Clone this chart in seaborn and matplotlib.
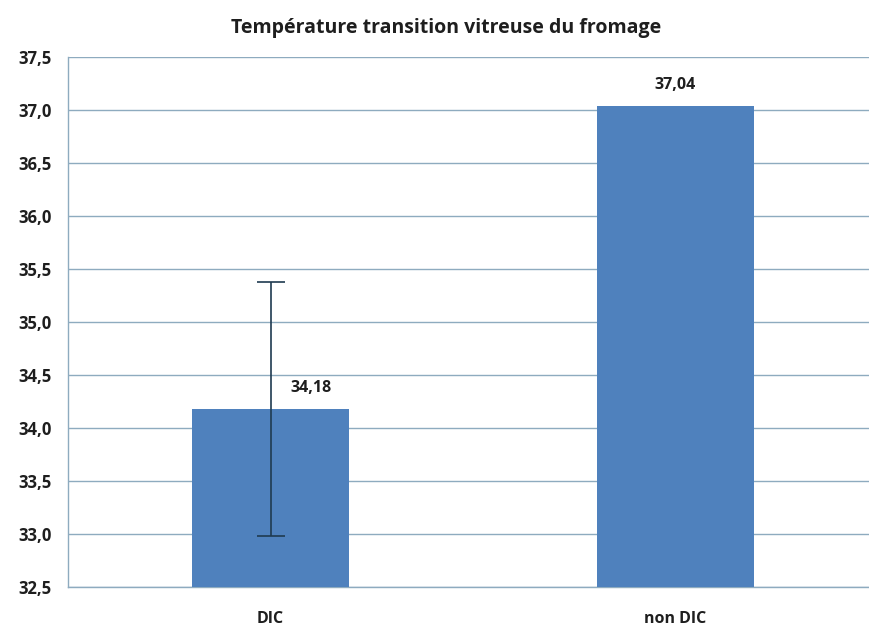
import matplotlib
matplotlib.use("Agg")
from matplotlib import pyplot as plt
import pandas as pd
import seaborn as sns

# data
categories = ["DIC", "non DIC"]
values = [34.18, 37.04]
errors = [1.2, 0.0]
value_labels = ["34,18", "37,04"]
yticks = [32.5, 33.0, 33.5, 34.0, 34.5, 35.0, 35.5, 36.0, 36.5, 37.0, 37.5]

df = pd.DataFrame({"cat": categories, "val": values})

sns.set_style("white")
plt.rcParams['font.family'] = ['Open Sans', 'DejaVu Sans']

fig = plt.figure(figsize=(8.69, 6.28), dpi=100)
ax = fig.add_axes([0.0783, 0.0653, 0.932, 0.844])

grid_col = '#8eabbf'
txt_col = '#1e1e1e'
sns.barplot(data=df, x="cat", y="val", color='#4f81bd', saturation=1,
            width=0.39, linewidth=0, ax=ax, zorder=3)

# error bar only on DIC
ax.errorbar(0, values[0], yerr=errors[0], fmt='none', ecolor='#1f3b50',
            elinewidth=1.2, capsize=10, capthick=1.2, zorder=4)

ax.set_ylim(32.5, 37.5)
ax.set_xlim(-0.5, 1.5)
ax.set_yticks(yticks)
ax.set_yticklabels([f"{t:.1f}".replace('.', ',') for t in yticks],
                   fontsize=12, fontweight='bold', color=txt_col)
ax.set_xticks([0, 1])
ax.set_xticklabels(categories, fontsize=11.5, fontweight='bold', color=txt_col)
ax.tick_params(axis='y', length=0, pad=12)
ax.tick_params(axis='x', length=0, pad=17)
ax.set_xlabel("")
ax.set_ylabel("")

ax.yaxis.grid(True, color=grid_col, linewidth=1.0, zorder=0)
ax.set_axisbelow(True)
for s in ['top', 'right']:
    ax.spines[s].set_visible(False)
for s in ['left', 'bottom']:
    ax.spines[s].set_color(grid_col)
    ax.spines[s].set_linewidth(1.0)

# value labels
ax.text(0.1, values[0] + 0.12, value_labels[0], ha='center', va='bottom',
        fontsize=11.5, fontweight='bold', color=txt_col, zorder=5)
ax.text(1, values[1] + 0.12, value_labels[1], ha='center', va='bottom',
        fontsize=11.5, fontweight='bold', color=txt_col, zorder=5)

fig.text(0.513, 0.955, "Température transition vitreuse du fromage", ha='center',
         va='center', fontsize=14, fontweight='bold', color=txt_col)

fig.savefig("out.png", dpi=100)
